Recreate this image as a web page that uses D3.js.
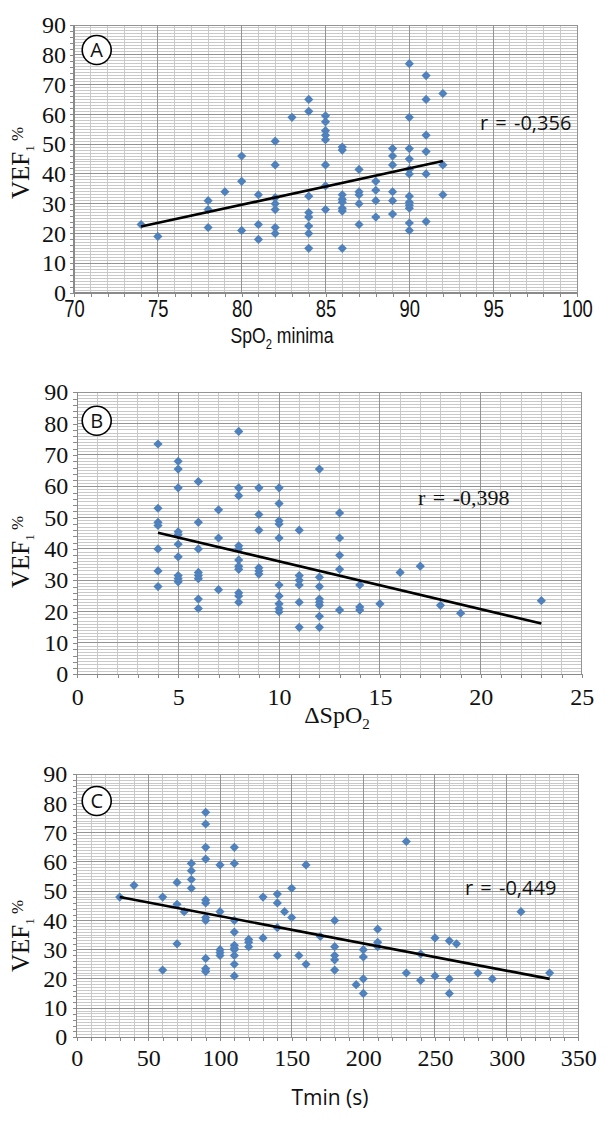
<!DOCTYPE html>
<html>
<head>
<meta charset="utf-8">
<script src="https://d3js.org/d3.v7.min.js"></script>
<style>
body { margin: 0; background: #fff; }
.grid-minor { stroke: #c9c9c9; stroke-width: 1; shape-rendering: crispEdges; }
.grid-major { stroke: #949494; stroke-width: 1; shape-rendering: crispEdges; }
.axis-line { stroke: #8a8a8a; stroke-width: 1.3; shape-rendering: crispEdges; }
.minor-ticks line { stroke: #8a8a8a; shape-rendering: crispEdges; }
.dot { fill: #4f81bd; }
.trend { stroke: #000; stroke-width: 2.6; fill: none; }
.lbl-serif { font-family: "Liberation Serif", "Times New Roman", serif; fill: #111; }
.lbl-sans { font-family: "Open Sans", "DejaVu Sans", sans-serif; fill: #111; }
.lbl-narrow { font-family: "Liberation Sans", Arial, sans-serif; fill: #111; }
</style>
</head>
<body>

<svg id="chart" width="607" height="1127"></svg>

<script>

// ---- panel A : VEF1 vs SpO2 minima (values grouped by x) ----
var spo2Min = [74, 75, 78, 79, 80, 81, 82, 83, 84, 85, 86, 87, 88, 89, 90, 91, 92];
var vefA = [
    [23],
    [19],
    [31, 28, 22],
    [34],
    [46, 37.5, 21],
    [33, 23, 18],
    [51, 43, 32, 30, 28, 22, 20],
    [59],
    [65, 61, 32.5, 27, 25.5, 22.5, 20, 15],
    [59.5, 57.5, 54.5, 53, 51.5, 43, 36, 28],
    [49, 48, 33, 31.5, 30.5, 28.5, 27.5, 15],
    [41.5, 34, 33, 30, 23],
    [37.5, 34.5, 31, 25.5],
    [48.5, 46, 43, 34, 31, 26.5],
    [77, 59, 48.5, 45, 41.5, 40, 32.5, 30.5, 29.5, 28.5, 23.5, 21],
    [73, 65, 53, 47.5, 40, 24],
    [67, 43, 33]
];
var trendA = [[74, 22.3], [92, 44.3]];
var ticksXA = [70, 75, 80, 85, 90, 95, 100];

// ---- panel B : VEF1 vs delta SpO2 ----
var deltaSpo2 = [4, 5, 6, 7, 8, 9, 10, 11, 12, 13, 14, 15, 16, 17, 18, 19, 23];
var vefB = [
    [73.5, 53, 48.5, 47.5, 40, 33, 28],
    [68, 65.5, 59.5, 45.5, 44.5, 41.5, 37.5, 31.5, 30.5, 29.5],
    [61.5, 48.5, 40, 32.5, 31.5, 30.5, 24, 21],
    [52.5, 43.5, 27],
    [77.5, 59.5, 57, 41, 40, 36.5, 34.5, 33.5, 26, 25, 23],
    [59.5, 51, 46, 34, 33, 32],
    [59.5, 54.5, 49, 48, 43.5, 28.5, 25, 22.5, 21, 20],
    [46, 31.5, 30, 28.5, 23, 15],
    [65.5, 31, 28, 24, 23, 22, 18.5, 15],
    [51.5, 43.5, 38, 33.5, 20.5],
    [28.5, 21.5, 20.5],
    [22.5],
    [32.5],
    [34.5],
    [22],
    [19.5],
    [23.5]
];
var trendB = [[4, 45.2], [23, 16.2]];
var ticksXB = [0, 5, 10, 15, 20, 25];

// ---- panel C : VEF1 vs Tmin ----
var tmin = [30, 40, 60, 70, 75, 80, 90, 100, 110, 120, 130, 140, 145, 150, 155, 160,
            170, 180, 195, 200, 210, 230, 240, 250, 260, 265, 280, 290, 310, 330];
var vefC = [
    [48],
    [52],
    [48, 23],
    [53, 45.5, 32],
    [43],
    [59.5, 57, 54, 51],
    [77, 73, 65, 61, 47, 46, 41, 40, 27, 23.5, 22.5],
    [59, 43, 30, 29, 28],
    [65, 59.5, 40, 36, 31.5, 30.5, 30, 28, 25, 21],
    [33.5, 32.5, 31],
    [48, 34],
    [49, 46, 37.5, 28],
    [43],
    [51, 41],
    [28],
    [59, 25],
    [34.5],
    [40, 31, 28, 26.5, 23],
    [18],
    [30, 27.5, 20, 15],
    [37, 32.5, 31],
    [67, 22],
    [28.5, 19.5],
    [34, 21],
    [33, 20, 15],
    [32],
    [22],
    [20],
    [43],
    [22]
];
var trendC = [[30, 48], [330, 20]];
var ticksXC = [0, 50, 100, 150, 200, 250, 300, 350];

var ticksY = [0, 10, 20, 30, 40, 50, 60, 70, 80, 90];
var rLabels = ["r = -0,356", "r = -0,398", "r = -0,449"];
var panelLetters = ["A", "B", "C"];

var svg = d3.select("#chart");

var panels = [
    { xs: spo2Min, ys: vefA, trend: trendA, xTicks: ticksXA, xMinor: 1,
      left: 74, right: 577, top: 25, bottom: 293,
      xTickClass: "lbl-narrow", xTickSize: 23, xSquash: 0.8, xTickPad: 8, yTickPad: 8,
      letterY: 50, rX: 480, rY: 130, rClass: "lbl-sans", rSize: 20,
      yTitleY: 163, title: "A" },
    { xs: deltaSpo2, ys: vefB, trend: trendB, xTicks: ticksXB, xMinor: 1,
      left: 77.3, right: 581.7, top: 392.3, bottom: 674.3,
      xTickClass: "lbl-serif", xTickSize: 24, xSquash: 1, xTickPad: 14, yTickPad: 9,
      letterY: 420.7, rX: 418, rY: 505, rClass: "lbl-serif", rSize: 22,
      yTitleY: 552, title: "B" },
    { xs: tmin, ys: vefC, trend: trendC, xTicks: ticksXC, xMinor: 10,
      left: 76.7, right: 578.3, top: 774.3, bottom: 1037.3,
      xTickClass: "lbl-serif", xTickSize: 24, xSquash: 1, xTickPad: 12, yTickPad: 9.5,
      letterY: 801, rX: 465, rY: 895, rClass: "lbl-sans", rSize: 20,
      yTitleY: 936, title: "C" }
];

panels.forEach(function(p, i) {

    var xMin = p.xTicks[0], xMax = p.xTicks[p.xTicks.length - 1];

    var x = d3.scaleLinear().domain([xMin, xMax]).range([p.left, p.right]);
    var y = d3.scaleLinear().domain([0, 90]).range([p.bottom, p.top]);

    var g = svg.append("g");

    var xMinorVals = d3.range(xMin, xMax + 1e-6, p.xMinor);
    var yMinorVals = d3.range(0, 90.001, 1);

    // minor grid
    g.selectAll(".vmin").data(xMinorVals).enter().append("line")
        .attr("class", "grid-minor")
        .attr("x1", function(d){ return x(d) }).attr("x2", function(d){ return x(d) })
        .attr("y1", y(0)).attr("y2", y(90));
    g.selectAll(".hmin").data(yMinorVals).enter().append("line")
        .attr("class", "grid-minor")
        .attr("x1", x(xMin)).attr("x2", x(xMax))
        .attr("y1", function(d){ return y(d) }).attr("y2", function(d){ return y(d) });

    // major grid
    g.selectAll(".vmaj").data(p.xTicks).enter().append("line")
        .attr("class", "grid-major")
        .attr("x1", function(d){ return x(d) }).attr("x2", function(d){ return x(d) })
        .attr("y1", y(0)).attr("y2", y(90));
    g.selectAll(".hmaj").data(ticksY).enter().append("line")
        .attr("class", "grid-major")
        .attr("x1", x(xMin)).attr("x2", x(xMax))
        .attr("y1", function(d){ return y(d) }).attr("y2", function(d){ return y(d) });

    // small tick marks outside the axes
    g.append("g").attr("class", "minor-ticks")
        .attr("transform", "translate(0," + y(0) + ")")
        .call(d3.axisBottom(x).tickValues(xMinorVals).tickSize(4).tickFormat(""))
        .select(".domain").remove();
    g.append("g").attr("class", "minor-ticks")
        .attr("transform", "translate(" + x(xMin) + ",0)")
        .call(d3.axisLeft(y).tickValues(d3.range(0, 90.001, 2)).tickSize(4).tickFormat(""))
        .select(".domain").remove();

    // axis lines
    g.append("line").attr("class", "axis-line")
        .attr("x1", x(xMin)).attr("x2", x(xMax)).attr("y1", y(0)).attr("y2", y(0));
    g.append("line").attr("class", "axis-line")
        .attr("x1", x(xMin)).attr("x2", x(xMin)).attr("y1", y(0)).attr("y2", y(90));

    // tick labels
    var xAx = g.append("g")
        .attr("transform", "translate(0," + y(0) + ")")
        .call(d3.axisBottom(x).tickValues(p.xTicks).tickSize(0).tickPadding(p.xTickPad));
    xAx.select(".domain").remove();
    xAx.attr("font-family", null).attr("font-size", p.xTickSize);
    xAx.selectAll("text").attr("class", p.xTickClass).attr("fill", "#111")
        .attr("transform", "scale(" + p.xSquash + ",1)");

    var yAx = g.append("g")
        .attr("transform", "translate(" + x(xMin) + ",0)")
        .call(d3.axisLeft(y).tickValues(ticksY).tickSize(0).tickPadding(p.yTickPad));
    yAx.select(".domain").remove();
    yAx.attr("font-family", null).attr("font-size", 24);
    yAx.selectAll("text").attr("class", "lbl-serif").attr("fill", "#111");

    // points
    var pts = [];
    p.xs.forEach(function(xv, k) {
        p.ys[k].forEach(function(yv) { pts.push([xv, yv]) });
    });
    g.selectAll(".dot").data(pts).enter().append("path")
        .attr("class", "dot")
        .attr("d", "M0,-4.6L4.6,0L0,4.6L-4.6,0Z")
        .attr("transform", function(d){ return "translate(" + x(d[0]) + "," + y(d[1]) + ")" });

    // trend line
    g.append("path").attr("class", "trend")
        .attr("d", d3.line().x(function(d){ return x(d[0]) }).y(function(d){ return y(d[1]) })(p.trend));

    // r label
    g.append("text").attr("class", p.rClass)
        .attr("x", p.rX).attr("y", p.rY)
        .attr("font-size", p.rSize)
        .attr("word-spacing", 2)
        .text(rLabels[i]);

    // panel letter in a circle
    g.append("circle")
        .attr("cx", 96.7).attr("cy", p.letterY).attr("r", 14.5)
        .attr("fill", "#fff").attr("stroke", "#000").attr("stroke-width", 1.6);
    g.append("text").attr("class", "lbl-sans")
        .attr("x", 96.7).attr("y", p.letterY).attr("dy", "0.36em")
        .attr("text-anchor", "middle").attr("font-size", 20)
        .text(panelLetters[i]);

    // y title
    var yt = g.append("text").attr("class", "lbl-serif")
        .attr("text-anchor", "middle")
        .attr("font-size", 25)
        .attr("transform", "translate(29," + p.yTitleY + ") rotate(-90)");
    yt.append("tspan").text("VEF");
    yt.append("tspan").attr("font-size", 13).attr("dy", 5).text("1");
    yt.append("tspan").attr("font-size", 17).attr("dy", -11).text(" %");
});

// x titles
var tA = svg.append("text").attr("class", "lbl-narrow")
    .attr("text-anchor", "middle").attr("font-size", 22)
    .attr("transform", "translate(282,343) scale(0.8,1)");
tA.append("tspan").text("SpO");
tA.append("tspan").attr("font-size", 14).attr("dy", 6).text("2");
tA.append("tspan").attr("dy", -6).text(" minima");

var tB = svg.append("text").attr("class", "lbl-serif")
    .attr("x", 337).attr("y", 723).attr("text-anchor", "middle").attr("font-size", 24);
tB.append("tspan").text("\u0394SpO");
tB.append("tspan").attr("font-size", 15).attr("dy", 6).text("2");

svg.append("text").attr("class", "lbl-sans")
    .attr("x", 330).attr("y", 1105).attr("text-anchor", "middle").attr("font-size", 21)
    .text("Tmin (s)");

</script>
</body>
</html>
